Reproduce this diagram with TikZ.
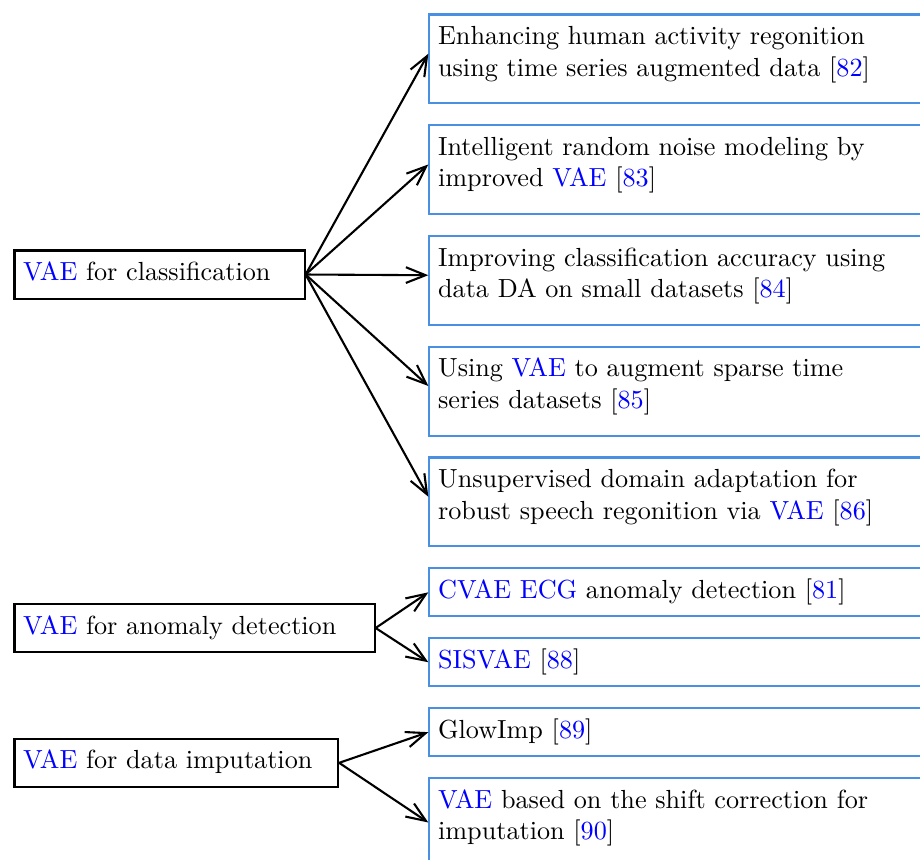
\documentclass[tikz,border=0pt]{standalone}
\usepackage{tikz}
\usetikzlibrary{positioning,arrows.meta}
\usepackage{xcolor}
\definecolor{boxblue}{RGB}{74,144,226}
\newcommand{\acro}[1]{\textcolor{blue}{#1}}
\newcommand{\cit}[1]{[\textcolor{blue}{#1}]}
\tikzset{catbox/.style={draw,thick,align=left,anchor=west,text height=8.2pt,text depth=3.5pt},
         refbox/.style={draw=boxblue,thick,text width=7.2cm,align=left,text height=8.2pt,text depth=3.5pt},
         tallbox/.style={refbox,text depth=19.1pt}
}
\tikzstyle{arrow} = [thick,->,>={Straight Barb[length=7.5pt,width=6pt]}]

\begin{document}
\begin{tikzpicture}

\useasboundingbox (0,0) rectangle (12.35,-11.54);
\clip (0,0) rectangle (12.35,-11.54);

% left column
\node[catbox,text width=3.66cm] (cls) at (0.18,-3.685) {\acro{VAE} for classification};
\node[catbox,text width=4.60cm] (ano) at (0.18,-8.43) {\acro{VAE} for anomaly detection};
\node[catbox,text width=4.11cm] (imp) at (0.18,-10.24) {\acro{VAE} for data imputation};

% right column
\node[tallbox,anchor=north west] (har) at (5.75,-0.18) {Enhancing human activity regonition\\using time series augmented data \cit{82}};
\node[tallbox,below=0.265cm of har] (noise) {Intelligent random noise modeling by\\improved \acro{VAE} \cit{83}};
\node[tallbox,below=0.265cm of noise] (small) {Improving classification accuracy using\\data DA on small datasets \cit{84}};
\node[tallbox,below=0.265cm of small] (sparse) {Using \acro{VAE} to augment sparse time\\series datasets \cit{85}};
\node[tallbox,below=0.265cm of sparse] (speech) {Unsupervised domain adaptation for\\robust speech regonition via \acro{VAE} \cit{86}};
\node[refbox,below=0.265cm of speech] (ecg) {\acro{CVAE ECG} anomaly detection \cit{81}};
\node[refbox,below=0.265cm of ecg] (sis) {\acro{SISVAE} \cit{88}};
\node[refbox,below=0.265cm of sis] (glow) {GlowImp \cit{89}};
\node[tallbox,below=0.265cm of glow] (shift) {\acro{VAE} based on the shift correction for\\imputation \cit{90}};

\draw[arrow] (cls.east)--([yshift=2pt]har.west);
\draw[arrow] (cls.east)--([yshift=2pt]noise.west);
\draw[arrow] (cls.east)--([yshift=2pt]small.west);
\draw[arrow] (cls.east)--([yshift=2pt]sparse.west);
\draw[arrow] (cls.east)--([yshift=2pt]speech.west);
\draw[arrow] (ano.east)--(ecg.west);
\draw[arrow] (ano.east)--(sis.west);
\draw[arrow] (imp.east)--(glow.west);
\draw[arrow] (imp.east)--(shift.west);

\end{tikzpicture}
\end{document}
